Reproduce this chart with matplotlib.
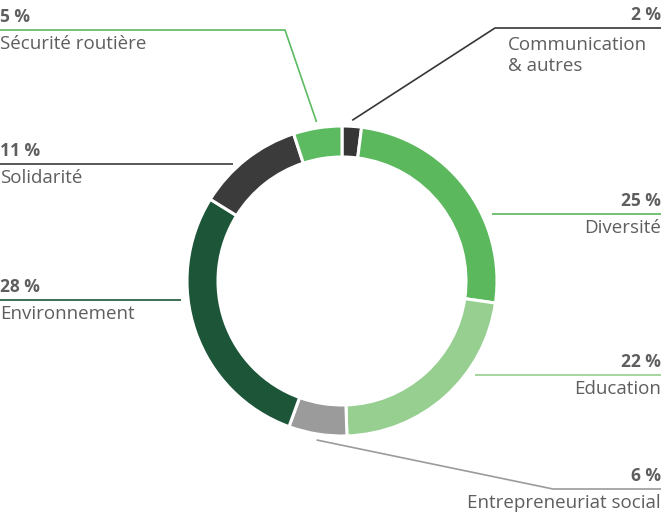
import numpy as np
import matplotlib
matplotlib.use('Agg')
import matplotlib.pyplot as plt

# Data (clockwise from top)
labels = ['Communication\n& autres', 'Diversité', 'Education', 'Entrepreneuriat social',
          'Environnement', 'Solidarité', 'Sécurité routière']
values = [2, 25, 22, 6, 28, 11, 5]
colors = ['#363636', '#5bb85d', '#97cf91', '#9b9b9b', '#1c5538', '#3b3b3b', '#5cba60']

# label layout: side, y of the leader line (image px), where the line starts/ends
sides = ['right', 'right', 'right', 'right', 'left', 'left', 'left']
line_y = [28, 214, 375, 489, 300, 164, 30]
elbow_x = [495, None, None, 553, None, None, 285]

W, H = 665, 519
cx, cy, R, ring = 342, 281, 155, 31

plt.rcParams['font.family'] = ['Open Sans', 'DejaVu Sans']
fig = plt.figure(figsize=(W / 100, H / 100), dpi=100)
ax = fig.add_axes([0, 0, 1, 1])

ax.pie(values, colors=colors, startangle=90, counterclock=False, radius=R,
       center=(cx, H - cy),
       wedgeprops=dict(width=ring, edgecolor='white', linewidth=2.2))
ax.set_xlim(0, W)
ax.set_ylim(0, H)
ax.set_aspect('equal')
ax.axis('off')

total = sum(values)
cum = np.cumsum([0] + values)
txt = '#5e5e5e'
for i, (lab, v) in enumerate(zip(labels, values)):
    mid = 90 - (cum[i] + v / 2) / total * 360
    ly = H - line_y[i]
    right = sides[i] == 'right'
    x_edge = W - 4 if right else 0
    if elbow_x[i] is not None:
        # diagonal leader from the slice to an elbow
        px = cx + (R + 6) * np.cos(np.radians(mid))
        py = (H - cy) + (R + 6) * np.sin(np.radians(mid))
        xs = [px, elbow_x[i], x_edge]
        ys = [py, ly, ly]
    else:
        dy = abs(line_y[i] - cy)
        dx = np.sqrt(max(R ** 2 - dy ** 2, 0))
        start = cx + dx + 10 if right else cx - dx - 7
        xs = [start, x_edge]
        ys = [ly, ly]
    ax.plot(xs, ys, color=colors[i], lw=1.2, solid_capstyle='butt')

    ha = 'right' if right else 'left'
    ax.text(x_edge, ly + 8, f'{v} %', ha=ha, va='baseline', fontsize=12.5,
            fontweight='bold', color=txt)
    if '\n' in lab:
        ax.text(508, ly - 8, lab, ha='left', va='top', fontsize=13.5,
                color=txt, linespacing=1.2)
    else:
        ax.text(x_edge, ly - 5, lab, ha=ha, va='top', fontsize=13.5, color=txt)

fig.savefig('out.png', dpi=100, facecolor='white')
